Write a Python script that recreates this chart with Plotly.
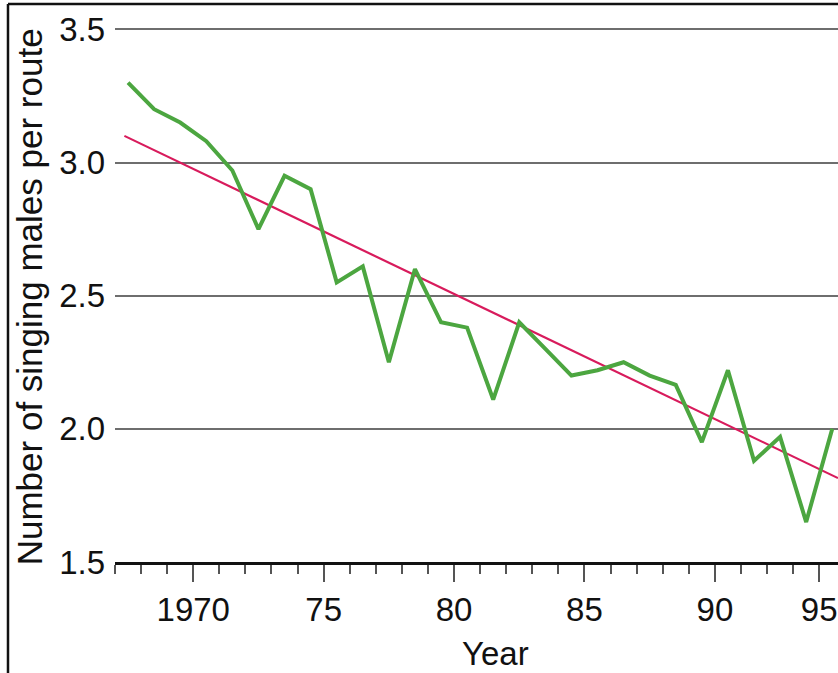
import plotly.graph_objects as go

# ---- data ----
years = list(range(1967, 1995))
singing_males = [3.30, 3.20, 3.15, 3.08, 2.97, 2.75, 2.95, 2.90, 2.55, 2.61,
                 2.25, 2.60, 2.40, 2.38, 2.11, 2.40, 2.30, 2.20, 2.22, 2.25,
                 2.20, 2.165, 1.95, 2.22, 1.88, 1.97, 1.65, 2.00]
trend_years = [1967.36, 1994.72]
trend_values = [3.10, 1.815]

major_ticks = [1970, 1975, 1980, 1985, 1990, 1994]
major_labels = ["1970", "75", "80", "85", "90", "95"]
minor_ticks = list(range(1967, 1995))
y_ticks = [1.5, 2.0, 2.5, 3.0, 3.5]
y_labels = ["1.5", "2.0", "2.5", "3.0", "3.5"]

FONT = "Liberation Sans, Arial, Helvetica, sans-serif"

fig = go.Figure()
fig.add_trace(go.Scatter(
    x=trend_years, y=trend_values, mode="lines",
    line=dict(color="#d81b5c", width=2.2), showlegend=False, hoverinfo="skip"))
fig.add_trace(go.Scatter(
    x=[y + 0.5 for y in years], y=singing_males, mode="lines",
    line=dict(color="#4ca640", width=4), showlegend=False))

fig.update_layout(
    width=838, height=673,
    margin=dict(l=115, r=0, t=28, b=111),
    paper_bgcolor="white", plot_bgcolor="white",
    font=dict(family=FONT, color="#111", size=33),
    xaxis=dict(
        range=[1967, 1994.72], showgrid=False, zeroline=False,
        showline=True, linecolor="#111", linewidth=2.5,
        tickmode="array", tickvals=major_ticks, ticktext=major_labels,
        ticks="outside", ticklen=17, tickwidth=1.5, tickcolor="#555",
        tickfont=dict(family=FONT, size=33, color="#111"),
        minor=dict(tickvals=minor_ticks, ticks="outside", ticklen=9,
                   tickwidth=1.5, tickcolor="#555"),
        fixedrange=True,
    ),
    yaxis=dict(
        range=[1.5, 3.505], showgrid=True, gridcolor="#6e6e6e", gridwidth=2,
        zeroline=False, showline=False, ticks="",
        tickmode="array", tickvals=y_ticks, ticktext=y_labels,
        tickfont=dict(family=FONT, size=33, color="#111"),
        ticklabelstandoff=9, fixedrange=True,
    ),
    annotations=[
        dict(text="Year", xref="paper", yref="paper", x=0.526, y=-0.171,
             xanchor="center", yanchor="middle", showarrow=False,
             font=dict(family=FONT, size=33, color="#111")),
        dict(text="Number of singing males per route", xref="paper", yref="paper",
             x=-0.118, y=0.497, textangle=-90, xanchor="center", yanchor="middle",
             showarrow=False, font=dict(family=FONT, size=35, color="#111")),
    ],
    shapes=[
        dict(type="line", xref="paper", yref="paper", x0=-0.148, x1=-0.148,
             y0=-0.215, y1=1.045, line=dict(color="#111", width=2.5)),
        dict(type="line", xref="paper", yref="paper", x0=-0.148, x1=1.01,
             y0=1.045, y1=1.045, line=dict(color="#111", width=2.5)),
    ],
)

fig.write_html("out.html", config={"displayModeBar": False},
               post_script="document.body.style.margin='0';document.body.style.overflow='hidden';")
